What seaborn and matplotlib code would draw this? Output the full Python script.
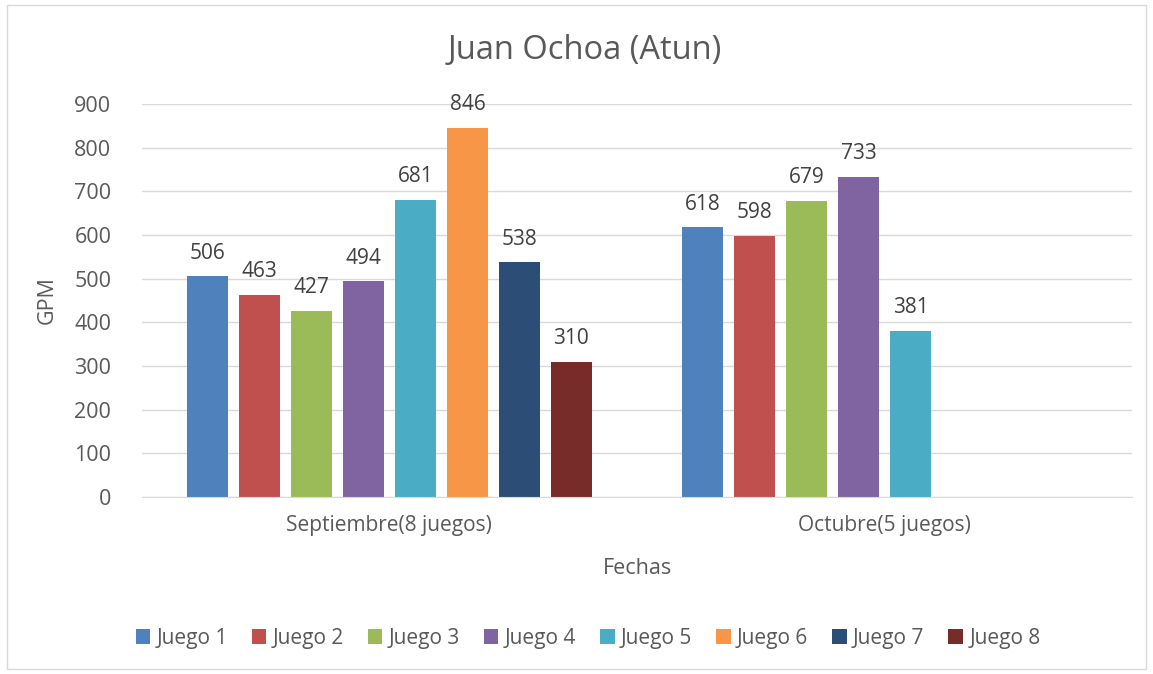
import pandas as pd
import numpy as np
import matplotlib.pyplot as plt
import seaborn as sns

fechas = ['Septiembre(8 juegos)', 'Octubre(5 juegos)']
juegos = ['Juego 1', 'Juego 2', 'Juego 3', 'Juego 4', 'Juego 5', 'Juego 6', 'Juego 7', 'Juego 8']
gpm_septiembre = [506, 463, 427, 494, 681, 846, 538, 310]
gpm_octubre = [618, 598, 679, 733, 381]

colores = ['#4F81BD', '#C0504D', '#9BBB59', '#8064A2', '#4BACC6', '#F79646', '#2C4D75', '#772C2A']

filas = []
for j, v in zip(juegos, gpm_septiembre):
    filas.append((fechas[0], j, v))
for j, v in zip(juegos, gpm_octubre):
    filas.append((fechas[1], j, v))
df = pd.DataFrame(filas, columns=['Fecha', 'Juego', 'GPM'])

sns.set_style('white')
plt.rcParams['font.family'] = ['Open Sans', 'DejaVu Sans']

fig = plt.figure(figsize=(11.53, 6.74), dpi=100)
ax = fig.add_axes([0.123, 0.2626, 0.859, 0.5831])

sns.barplot(data=df, x='Fecha', y='GPM', hue='Juego', hue_order=juegos, order=fechas,
            palette=colores, width=0.84, gap=0.22, saturation=1, linewidth=0, ax=ax, legend=True)

for c in ax.containers:
    ax.bar_label(c, fmt='%d', padding=9, fontsize=15, color='#404040')

ax.set_ylim(0, 900)
ax.set_yticks(np.arange(0, 901, 100))
ax.yaxis.grid(True, color='#d9d9d9', linewidth=1)
ax.set_axisbelow(True)
for s in ['top', 'right', 'left']:
    ax.spines[s].set_visible(False)
ax.spines['bottom'].set_color('#d9d9d9')
ax.tick_params(axis='y', length=0, labelsize=15.5, colors='#595959', pad=22)
ax.tick_params(axis='x', length=0, labelsize=15, colors='#595959', pad=13)
ax.set_xlabel('Fechas', fontsize=15.5, color='#595959', labelpad=16)
ax.set_ylabel('GPM', fontsize=15.5, color='#595959', labelpad=12)

fig.text(0.507, 0.925, 'Juan Ochoa (Atun)', ha='center', va='center', fontsize=23.5, color='#595959')

handles, labels = ax.get_legend_handles_labels()
ax.get_legend().remove()
fig.legend(handles, labels, loc='center', bbox_to_anchor=(0.51, 0.053), ncol=8, frameon=False,
           fontsize=15, handlelength=0.7, handleheight=0.7, handletextpad=0.3, columnspacing=1.15,
           labelcolor='#595959')

fig.patches.append(plt.Rectangle((0.006, 0.008), 0.988, 0.985, transform=fig.transFigure,
                                 fill=False, edgecolor='#d9d9d9', linewidth=1))

fig.savefig('out.png', dpi=100)
